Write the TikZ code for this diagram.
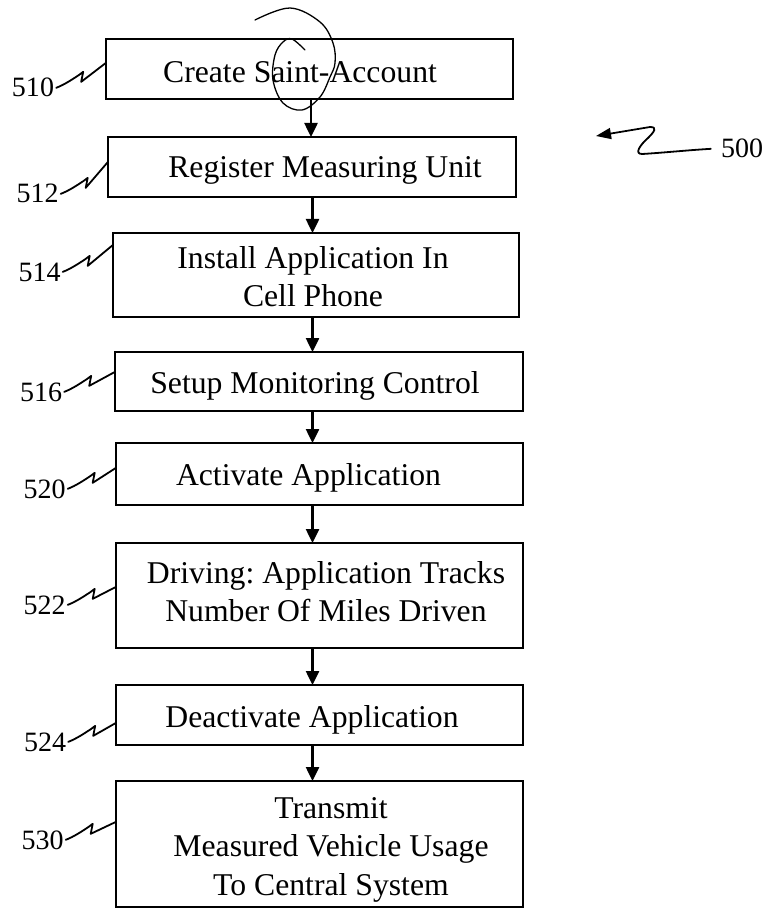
\documentclass[tikz,border=0pt]{standalone}
\usepackage{fontspec}
\setmainfont{Liberation Serif}
\usetikzlibrary{arrows.meta,calc}

% reference-numeral lead line: from a numeral to the left edge of its box
\newcommand\leadline[3]{%
  \path ($(#1.center)+(0,#3)$) coordinate (#1end);
  \draw[leadln] ($(#1.east)+(2,0)$) .. controls +(8,-3) and +(-6,4) .. ++(23,-13)
    -- ++(4,-3) -- ++(-2,10) -- (#2.west |- #1end);
}

\begin{document}
\frenchspacing
\begin{tikzpicture}[x=1pt,y=-1pt,
  box/.style={draw, line width=2.6pt, inner sep=0pt, outer sep=0pt},
  steptext/.style={anchor=north, inner sep=0pt, align=center,
    font=\fontsize{31.7}{38.5}\selectfont},
  refnum/.style={inner sep=0pt, anchor=base, font=\fontsize{28}{32}\selectfont},
  flow/.style={line width=2.5pt, -{Triangle[length=14pt,width=13pt]}},
  leadln/.style={line width=1.8pt, line cap=round, line join=round},
]
\useasboundingbox (0,0) rectangle (772,909);

% process boxes
\node[box, minimum width=407pt, minimum height=60pt]  (b510) at (309.5,69)    {};
\node[box, minimum width=408pt, minimum height=60pt]  (b512) at (312,167)     {};
\node[box, minimum width=406pt, minimum height=84pt]  (b514) at (316,275)     {};
\node[box, minimum width=408pt, minimum height=59pt]  (b516) at (319,381.5)   {};
\node[box, minimum width=407pt, minimum height=62pt]  (b520) at (319.5,474)   {};
\node[box, minimum width=407pt, minimum height=105pt] (b522) at (319.5,595.5) {};
\node[box, minimum width=407pt, minimum height=60pt]  (b524) at (319.5,715)   {};
\node[box, minimum width=407pt, minimum height=126pt] (b530) at (319.5,844)   {};

% box texts
\node[steptext] (t510) at (300,58)  {\rule{0pt}{24pt}Create Saint-Account};
\node[steptext] (t512) at (325,153) {\rule{0pt}{24pt}Register Measuring Unit};
\node[steptext] (t514) at (313,244) {\rule{0pt}{24pt}Install Application In\\Cell Phone};
\node[steptext] (t516) at (315,369) {\rule{0pt}{24pt}Setup Monitoring Control};
\node[steptext] (t520) at (308.5,461) {\rule{0pt}{24pt}Activate Application};
\node[steptext] (t522) at (326,559) {\rule{0pt}{24pt}Driving: Application Tracks\\Number Of Miles Driven};
\node[steptext] (t524) at (312,703) {\rule{0pt}{24pt}Deactivate Application};
\node[steptext] (t530) at (331,794) {\rule{0pt}{24pt}Transmit\\Measured Vehicle Usage\\To Central System};

% flow arrows
\coordinate (ax0) at (311,0);
\coordinate (ax)  at (312.5,0);
\draw[flow] (b510.south -| ax0) -- (b512.north -| ax0);
\draw[flow] (b512.south -| ax) -- (b514.north -| ax);
\draw[flow] (b514.south -| ax) -- (b516.north -| ax);
\draw[flow] (b516.south -| ax) -- (b520.north -| ax);
\draw[flow] (b520.south -| ax) -- (b522.north -| ax);
\draw[flow] (b522.south -| ax) -- (b524.north -| ax);
\draw[flow] (b524.south -| ax) -- (b530.north -| ax);

% reference numerals
\node[refnum] (l510) at (33,97)    {510};
\node[refnum] (l512) at (37.5,203) {512};
\node[refnum] (l514) at (39.5,281) {514};
\node[refnum] (l516) at (41,401)   {516};
\node[refnum] (l520) at (44.5,498) {520};
\node[refnum] (l522) at (44.5,614) {522};
\node[refnum] (l524) at (45,751)   {524};
\node[refnum] (l530) at (42.5,849) {530};

\leadline{l510}{b510}{-25}
\leadline{l512}{b512}{-32}
\leadline{l514}{b514}{-27}
\leadline{l516}{b516}{-20}
\leadline{l520}{b520}{-21}
\leadline{l522}{b522}{-18}
\leadline{l524}{b524}{-19}
\leadline{l530}{b530}{-18}

% figure numeral with its arrow
\node[refnum] (l500) at (742,158) {500};
\coordinate (p500) at (596,136);
\draw[leadln, -{Triangle[length=15pt,width=11pt]}]
  ($(l500.west)+(-10,0)$) .. controls (690,150) and (660,153) .. (642,154)
  .. controls (634,154) and (640,145) .. (648,138)
  .. controls (654,132) and (658,127) .. (650,127)
  -- (p500);

% hand-drawn loop over the first box
\draw[line width=1.3pt, line cap=round] plot[smooth, tension=0.6] coordinates
  {(255,20) (290,8) (320,22) (333,43) (335,63) (330,77) (320,97) (302,110)
   (283,103) (273,80) (275,55) (283,42) (292,39) (305,50)};
\end{tikzpicture}
\end{document}
